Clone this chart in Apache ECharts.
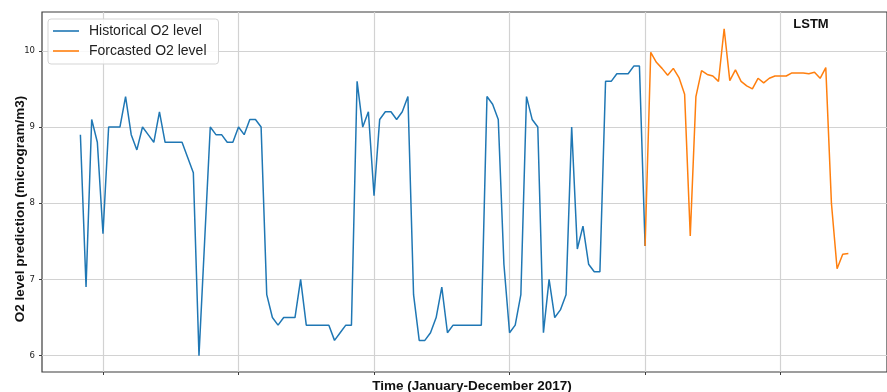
<!DOCTYPE html>
<html><head><meta charset="utf-8">
<script src="https://cdn.jsdelivr.net/npm/echarts@6/dist/echarts.min.js"></script>
<style>html,body{margin:0;padding:0;background:#fff}#c{width:887px;height:392px}</style>
</head><body><div id="c"></div>
<script>
const historicalStart = 0;
const historicalValues = [
  8.9, 6.9, 9.1, 8.8, 7.6, 9.0, 9.0, 9.0, 9.4, 8.9,
  8.7, 9.0, 8.9, 8.8, 9.2, 8.8, 8.8, 8.8, 8.8, 8.6,
  8.4, 6.0, 7.5, 9.0, 8.9, 8.9, 8.8, 8.8, 9.0, 8.9,
  9.1, 9.1, 9.0, 6.8, 6.5, 6.4, 6.5, 6.5, 6.5, 7.0,
  6.4, 6.4, 6.4, 6.4, 6.4, 6.2, 6.3, 6.4, 6.4, 9.6,
  9.0, 9.2, 8.1, 9.1, 9.2, 9.2, 9.1, 9.2, 9.4, 6.8,
  6.2, 6.2, 6.3, 6.5, 6.9, 6.3, 6.4, 6.4, 6.4, 6.4,
  6.4, 6.4, 9.4, 9.3, 9.1, 7.2, 6.3, 6.4, 6.8, 9.4,
  9.1, 9.0, 6.3, 7.0, 6.5, 6.6, 6.8, 9.0, 7.4, 7.7,
  7.2, 7.1, 7.1, 9.6, 9.6, 9.7, 9.7, 9.7, 9.8, 9.8,
  7.44
];
const forecastStart = 100;
const forecastValues = [
  7.44, 9.98, 9.85, 9.77, 9.68, 9.77, 9.65, 9.43, 7.57, 9.40,
  9.74, 9.69, 9.67, 9.60, 10.29, 9.61, 9.75, 9.60, 9.54, 9.50,
  9.64, 9.58, 9.64, 9.67, 9.67, 9.67, 9.71, 9.71, 9.71, 9.70,
  9.72, 9.64, 9.78, 8.00, 7.14, 7.33, 7.34
];
const xTickPositions = [4, 28, 52, 76, 100, 124];
const yTickLabels = [6, 7, 8, 9, 10];
const seriesNames = ['Historical O2 level', 'Forcasted O2 level'];
const xTitle = 'Time (January-December 2017)';
const yTitle = 'O2 level prediction (microgram/m3)';
const modelLabel = 'LSTM';

const toPairs = (start, vals) => vals.map((v, k) => [start + k, v]);

const chart = echarts.init(document.getElementById('c'), null, {renderer: 'canvas'});
const gridCol = '#d2d2d2';
const spineCol = '#3c3c3c';
chart.setOption({
  animation: false,
  backgroundColor: '#fff',
  grid: {left: 42, top: 12, right: -3, bottom: 20, show: true, borderColor: spineCol, borderWidth: 1.2},
  xAxis: {
    type: 'value', min: -6.8, max: 142.84,
    axisLine: {show: false, onZero: false},
    axisTick: {show: true, customValues: xTickPositions, length: 3, lineStyle: {color: spineCol}},
    axisLabel: {show: false},
    splitLine: {show: true, lineStyle: {color: gridCol, width: 1.2}}
  },
  yAxis: {
    type: 'value', min: 5.785, max: 10.51,
    axisLine: {show: false, onZero: false},
    axisTick: {show: true, customValues: yTickLabels, length: 3, lineStyle: {color: spineCol}},
    axisLabel: {customValues: yTickLabels, fontSize: 8.5, color: '#222', margin: 7, fontFamily: 'DejaVu Sans'},
    splitLine: {show: true, lineStyle: {color: gridCol, width: 1.2}}
  },
  legend: {
    left: 48, top: 19, orient: 'vertical', icon: 'rect', itemWidth: 26, itemHeight: 1.6, itemGap: 6,
    padding: [5, 12, 6, 5], backgroundColor: 'rgba(255,255,255,0.85)', borderColor: '#d5d5d5',
    borderWidth: 1, borderRadius: 3,
    textStyle: {fontSize: 14, fontFamily: 'Liberation Sans', color: '#222', padding: [0, 0, 0, 5]},
    data: seriesNames
  },
  series: [
    {type: 'line', name: seriesNames[0], data: toPairs(historicalStart, historicalValues), symbol: 'none',
     lineStyle: {color: '#1f77b4', width: 1.5}, itemStyle: {color: '#1f77b4'}, z: 3},
    {type: 'line', name: seriesNames[1], data: toPairs(forecastStart, forecastValues), symbol: 'none',
     lineStyle: {color: '#ff7f0e', width: 1.5}, itemStyle: {color: '#ff7f0e'}, z: 3}
  ],
  graphic: [
    {type: 'text', x: 20, y: 209, rotation: Math.PI / 2,
     style: {text: yTitle, font: 'bold 13.5px "Liberation Sans", Arial, sans-serif', fill: '#111', align: 'center', verticalAlign: 'middle'}},
    {type: 'text', x: 472, y: 386,
     style: {text: xTitle, font: 'bold 13.5px "Liberation Sans", Arial, sans-serif', fill: '#111', align: 'center', verticalAlign: 'middle'}},
    {type: 'text', x: 811, y: 24.5,
     style: {text: modelLabel, font: 'bold 13px "Liberation Sans", Arial, sans-serif', fill: '#111', align: 'center', verticalAlign: 'middle'}}
  ]
});
</script>
</body></html>
